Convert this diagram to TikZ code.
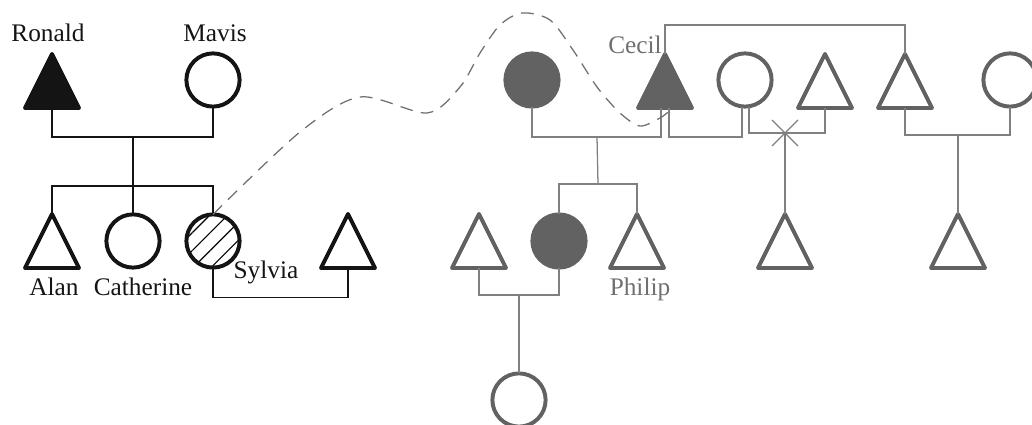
\documentclass[tikz,border=0pt]{standalone}
\usepackage{fontspec}
\setmainfont{Liberation Serif}
\usetikzlibrary{positioning, shapes.geometric, patterns.meta}
\definecolor{pedblack}{RGB}{20, 20, 20}
\definecolor{pedgray}{RGB}{98, 98, 98}
\definecolor{linkgray}{RGB}{128, 128, 128}
\definecolor{namegray}{RGB}{112, 112, 112}

\begin{document}
\begin{tikzpicture}[x=0.025cm, y=-0.025cm,
  font=\fontsize{18pt}{20pt}\selectfont,
  male/.style={isosceles triangle, isosceles triangle stretches, shape border rotate=90,
    minimum width=1.35cm, minimum height=1.35cm, inner sep=0pt, outer sep=0pt,
    draw=pedblack, line width=2.8pt, line join=round, anchor=apex},
  female/.style={circle, minimum size=1.33cm, inner sep=0pt, outer sep=0pt,
    draw=pedblack, line width=2.8pt},
  gmale/.style={male, draw=pedgray},
  gfemale/.style={female, draw=pedgray},
  kin/.style={draw=pedblack, line width=1pt},
  glink/.style={draw=linkgray, line width=0.9pt},
  pname/.style={anchor=base, inner sep=0pt, text=pedblack},
  gname/.style={pname, text=namegray}]
\useasboundingbox (0,0) rectangle (1032,425);

% first family
\node[male, fill=pedblack] (ronald) at (52,54) {};
\node[female] (mavis) at (213,80) {};
\node[male] (alan) at (52,214) {};
\node[female] (catherine) at (133,241) {};
\node[female, pattern={Lines[angle=45, distance=9pt, line width=0.8pt]}] (sylvia) at (213,241) {};
\node[male] (sylviahusb) at (348,214) {};

\node[pname] (ronaldname) at (48,42) {Ronald};
\node[pname] (mavisname) at (215,42) {Mavis};
\node[pname] (alanname) at (54,296) {Alan};
\node[pname] (catherinename) at (143,296) {Catherine};
\node[pname] (sylvianame) at (266,279) {Sylvia};

\coordinate (rm) at (133,137);
\coordinate (rsib) at (133,186);
\draw[kin] (ronald.lower side) |- (rm) -| (mavis.south);
\draw[kin] (rm) -- (catherine.north);
\draw[kin] (alan.apex) |- (rsib) -| (sylvia.north);
\draw[kin] (sylvia.south) -- ++(0,30) -| (sylviahusb.lower side);

% second family
\node[gfemale, fill=pedgray] (cecilwife) at (532,80) {};
\node[gmale, fill=pedgray] (cecil) at (665,54) {};
\node[gfemale] (secondwife) at (745,80) {};
\node[gmale] (rival) at (825,54) {};
\node[gmale] (cecilbro) at (905,54) {};
\node[gfemale] (browife) at (1010,80) {};
\node[gmale] (eldson) at (479,214) {};
\node[gfemale, fill=pedgray] (daughter) at (559,241) {};
\node[gmale] (philip) at (637,214) {};
\node[gmale] (halfson) at (785,214) {};
\node[gmale] (nephew) at (958,214) {};
\node[gfemale] (granddaughter) at (519,400) {};

\node[gname] (cecilname) at (635,54) {Cecil};
\node[gname] (philipname) at (640,296) {Philip};

\coordinate (cm) at (597,137);
\coordinate (csib) at (598,184);
\coordinate (sm) at (785,133);
\coordinate (bm) at (958,135);
\coordinate (dm) at (519,295);
\draw[glink] (cecilwife.south) |- (cm) -| ([xshift=-0.1cm]cecil.lower side);
\draw[glink] ([xshift=0.1cm]cecil.lower side) -- ++(0,29) -| ([xshift=-0.075cm]secondwife.south);
\draw[glink] (cecil.apex) -- ++(0,-29) -| (cecilbro.apex);
\draw[glink] ([xshift=0.1cm]secondwife.south) |- (sm) -| (rival.lower side);
\draw[glink] (sm) -- (halfson.apex);
\draw[glink] (sm) +(-13,-13) -- +(13,13) (sm) +(-13,13) -- +(13,-13);
\draw[glink] (cecilbro.lower side) |- (bm) -| (browife.south);
\draw[glink] (bm) -- (nephew.apex);
\draw[glink] (cm) -- (csib);
\draw[glink] (daughter.north) |- (csib) -| (philip.apex);
\draw[glink] (eldson.lower side) |- (dm) -| (daughter.south);
\draw[glink] (dm) -- (granddaughter.north);

% link between the two families
\draw[glink, draw=namegray, dash pattern=on 9pt off 6pt] plot[smooth, tension=0.5] coordinates
  {(sylvia.north) (300,132) (360,97) (427,113) (460,87) (480,53) (500,25) (522,13) (550,20)
   (573,50) (597,87) (620,113) (640,126) (660,118) (668,112)};
\end{tikzpicture}
\end{document}
